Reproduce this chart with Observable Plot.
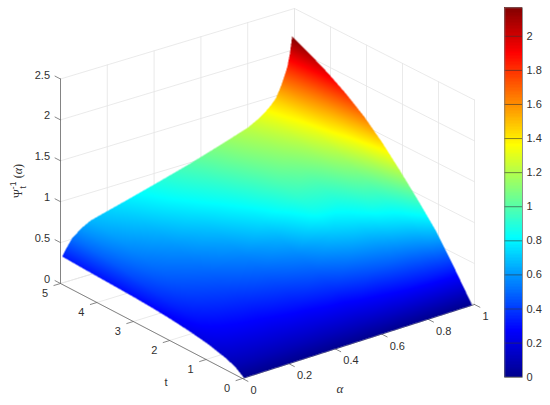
<!DOCTYPE html>
<html>
<head>
<meta charset="utf-8">
<script src="https://cdn.jsdelivr.net/npm/d3@7"></script>
<script src="https://cdn.jsdelivr.net/npm/@observablehq/plot@0.6"></script>
<style>
html,body{margin:0;padding:0;background:#fff;}
#chart{position:relative;width:550px;height:405px;overflow:hidden;}
#chart svg{position:absolute;left:0;top:0;background:transparent;}
</style>
</head>
<body>
<div id="chart"></div>
<script>
// ---------- values ----------
const tValues = [0, 0.25, 0.5, 1, 1.5, 2, 2.5, 3, 3.5, 4, 4.5, 5];
const alphaValues = [0.007, 0.02, 0.035, 0.05, 0.09, 0.13, 0.25, 0.4, 0.55, 0.7, 0.8, 0.84, 0.87, 0.9, 0.92, 0.94, 0.96, 0.97, 0.98, 0.99];
const zAlpha007 = [0, .08, .125, .185, .222, .25, .27, .284, .294, .303, .313, .324];
const zAlpha02  = [0, .085, .135, .205, .25, .283, .31, .33, .345, .36, .373, .385];
const zAlpha035 = [0, .088, .14, .215, .268, .307, .34, .367, .392, .415, .435, .45];
const zAlpha05  = [0, .09, .145, .225, .285, .33, .37, .405, .44, .465, .49, .51];
const zAlpha09  = [0, .095, .15, .24, .305, .36, .41, .455, .495, .53, .567, .60];
const zAlpha13  = [0, .095, .155, .25, .32, .38, .435, .485, .53, .575, .62, .66];
const zAlpha25  = [0, .10, .165, .27, .35, .42, .48, .535, .59, .645, .70, .75];
const zAlpha40  = [0, .105, .185, .31, .40, .48, .55, .62, .69, .76, .82, .865];
const zAlpha55  = [0, .12, .21, .36, .47, .56, .65, .75, .82, .88, .935, .985];
const zAlpha70  = [0, .145, .26, .44, .58, .70, .84, .92, .98, 1.03, 1.08, 1.12];
const zAlpha80  = [0, .16, .30, .49, .63, .77, .87, .96, 1.05, 1.12, 1.17, 1.215];
const zAlpha84  = [0, .165, .31, .505, .665, .815, .915, 1.005, 1.09, 1.16, 1.22, 1.275];
const zAlpha87  = [0, .17, .32, .52, .70, .86, .96, 1.05, 1.13, 1.20, 1.27, 1.33];
const zAlpha90  = [0, .171, .326, .545, .73, .885, 1.0, 1.10, 1.19, 1.27, 1.345, 1.405];
const zAlpha92  = [0, .172, .33, .56, .75, .90, 1.02, 1.13, 1.23, 1.32, 1.40, 1.47];
const zAlpha94  = [0, .173, .335, .585, .78, .94, 1.07, 1.20, 1.32, 1.42, 1.51, 1.585];
const zAlpha96  = [0, .174, .34, .62, .83, 1.00, 1.15, 1.29, 1.42, 1.54, 1.64, 1.735];
const zAlpha97  = [0, .175, .342, .635, .86, 1.05, 1.22, 1.37, 1.50, 1.62, 1.73, 1.82];
const zAlpha98  = [0, .175, .345, .65, .90, 1.11, 1.30, 1.47, 1.62, 1.75, 1.86, 1.96];
const zAlpha99  = [0, .175, .35, .68, .945, 1.195, 1.43, 1.635, 1.80, 1.94, 2.06, 2.167];
const zColumns = [zAlpha007, zAlpha02, zAlpha035, zAlpha05, zAlpha09, zAlpha13, zAlpha25, zAlpha40, zAlpha55, zAlpha70, zAlpha80, zAlpha84, zAlpha87, zAlpha90, zAlpha92, zAlpha94, zAlpha96, zAlpha97, zAlpha98, zAlpha99];

const alphaTicks = [0, 0.2, 0.4, 0.6, 0.8, 1];
const tTicks = [0, 1, 2, 3, 4, 5];
const zTicks = [0, 0.5, 1, 1.5, 2, 2.5];
const colorTicks = [0, 0.2, 0.4, 0.6, 0.8, 1, 1.2, 1.4, 1.6, 1.8, 2];
const colorMax = 2.167;
const jetStops = [0, 0.125, 0.375, 0.625, 0.875, 1];
const jetColors = ["#00008f", "#0000ff", "#00ffff", "#ffff00", "#ff0000", "#800000"];

// ---------- view ----------
const W = 550, H = 405;
const view = {ox: 242, oy: 378, ax: 232, ay: -74, tx: -182, ty: -95, cx: 2, cy: 3.5, zy: -81.8};
function px(a, t) { const u = t / 5; return view.ox + a * view.ax + u * view.tx + a * u * view.cx; }
function py(a, t, z) { const u = t / 5; return view.oy + a * view.ay + u * view.ty + a * u * view.cy + z * view.zy; }

const color = {
  type: "linear",
  domain: jetStops.map(s => s * colorMax),
  range: jetColors,
  interpolate: "rgb",
  clamp: true
};

// ---------- surface ----------
const surface = [];
alphaValues.forEach((a, i) => tValues.forEach((t, j) => surface.push({a, t, z: zColumns[i][j]})));
const nA = alphaValues.length, nT = tValues.length;

// fills only the triangles of the surface mesh (its outline is not convex)
function meshInterpolate(index, width, height, X, Y, V) {
  const out = new Float64Array(width * height).fill(NaN);
  const tri = (p, q, r) => {
    const x0 = X[p], y0 = Y[p], x1 = X[q], y1 = Y[q], x2 = X[r], y2 = Y[r];
    const d = (y1 - y2) * (x0 - x2) + (x2 - x1) * (y0 - y2);
    if (!d) return;
    const xa = Math.max(0, Math.floor(Math.min(x0, x1, x2))), xb = Math.min(width - 1, Math.ceil(Math.max(x0, x1, x2)));
    const ya = Math.max(0, Math.floor(Math.min(y0, y1, y2))), yb = Math.min(height - 1, Math.ceil(Math.max(y0, y1, y2)));
    for (let y = ya; y <= yb; ++y) for (let x = xa; x <= xb; ++x) {
      const sx = x + 0.5, sy = y + 0.5;
      const l0 = ((y1 - y2) * (sx - x2) + (x2 - x1) * (sy - y2)) / d;
      const l1 = ((y2 - y0) * (sx - x2) + (x0 - x2) * (sy - y2)) / d;
      const l2 = 1 - l0 - l1;
      if (l0 >= -1e-6 && l1 >= -1e-6 && l2 >= -1e-6) out[y * width + x] = l0 * V[p] + l1 * V[q] + l2 * V[r];
    }
  };
  for (let i = 0; i < nA - 1; ++i) for (let j = 0; j < nT - 1; ++j) {
    const p = i * nT + j, q = p + 1, r = (i + 1) * nT + j, s = r + 1;
    tri(p, q, s); tri(p, s, r);
  }
  return out;
}

// ---------- box, grid and ticks ----------
const gridLines = [];
const seg = (k, p, q) => { gridLines.push({k, ...p}, {k, ...q}); };
const tipAt = (a, t, z) => ({X: px(a, t), Y: py(a, t, z)});
alphaTicks.forEach(a => {
  seg("fa" + a, tipAt(a, 0, 0), tipAt(a, 5, 0));
  seg("wa" + a, tipAt(a, 5, 0), tipAt(a, 5, 2.5));
});
tTicks.forEach(t => {
  seg("ft" + t, tipAt(0, t, 0), tipAt(1, t, 0));
  seg("wt" + t, tipAt(1, t, 0), tipAt(1, t, 2.5));
});
zTicks.forEach(z => {
  seg("za" + z, tipAt(0, 5, z), tipAt(1, 5, z));
  seg("zt" + z, tipAt(1, 5, z), tipAt(1, 0, z));
});
const axisLines = [];
const axSeg = (k, p, q) => { axisLines.push({k, ...p}, {k, ...q}); };
axSeg("z", tipAt(0, 5, 0), tipAt(0, 5, 2.5));
axSeg("t", tipAt(0, 0, 0), tipAt(0, 5, 0));
axSeg("a", tipAt(0, 0, 0), tipAt(1, 0, 0));
zTicks.forEach(z => axSeg("tz" + z, tipAt(0, 5, z), tipAt(0, 5.15, z)));
tTicks.forEach(t => axSeg("tt" + t, tipAt(0, t, 0), tipAt(-0.028, t, 0)));
alphaTicks.forEach(a => axSeg("ta" + a, tipAt(a, 0, 0), tipAt(a, -0.15, 0)));

const font = "Liberation Sans, Arial, Helvetica, sans-serif";
const ink = "#303030";

const main = Plot.plot({
  width: W, height: H,
  margin: 0,
  x: {domain: [0, W], range: [0, W], axis: null},
  y: {domain: [0, H], range: [0, H], axis: null},
  color,
  style: {fontFamily: font, background: "transparent"},
  marks: [
    Plot.line(gridLines, {x: "X", y: "Y", z: "k", stroke: "#e4e4e4", strokeWidth: 0.8}),
    Plot.line(axisLines, {x: "X", y: "Y", z: "k", stroke: "#6a6a6a", strokeWidth: 0.8}),
    Plot.raster(surface, {
      x: d => px(d.a, d.t), y: d => py(d.a, d.t, d.z), fill: "z",
      x1: 0, x2: W, y1: 0, y2: H, pixelSize: 0.5, interpolate: meshInterpolate
    }),
    Plot.text(zTicks, {x: () => px(0, 5), y: z => py(0, 5, z), text: z => String(z), textAnchor: "end", dx: -10.5, dy: -4, fontSize: 11, fill: ink}),
    Plot.text(tTicks, {x: t => px(0, t), y: t => py(0, t, 0), text: t => String(t), dx: -15.5, dy: 9.5, fontSize: 11, fill: ink}),
    Plot.text(alphaTicks, {x: a => px(a, 0), y: a => py(a, 0, 0), text: a => String(a), textAnchor: "start", dx: 8, dy: 12, fontSize: 11, fill: ink}),
    Plot.text(["t"], {x: () => px(0, 2.1), y: () => py(0, 2.1, 0), dy: 44, fontSize: 11, fill: ink}),
    Plot.text(["α"], {x: () => px(0.42, 0), y: () => py(0.42, 0, 0), dy: 41, fontSize: 13, fontStyle: "italic", fontFamily: "Liberation Serif, serif", fill: ink})
  ]
});

// ---------- colour bar ----------
const barLevels = d3.range(0, 256).map(i => i / 256 * colorMax);
const barStep = colorMax / 256;
const bar = Plot.plot({
  width: W, height: H,
  marginTop: 7.3, marginBottom: H - 376.7, marginLeft: 504.3, marginRight: W - 522,
  x: {domain: [0, 1], axis: null},
  y: {domain: [0, colorMax], axis: null},
  color,
  style: {fontFamily: font, background: "transparent"},
  marks: [
    Plot.rect(barLevels, {x1: 0, x2: 1, y1: d => d, y2: d => d + barStep, fill: d => d, inset: 0, shapeRendering: "crispEdges"}),
    Plot.tickY(colorTicks, {y: d => d, x1: 0.82, x2: 1, stroke: "#333", strokeWidth: 0.6}),
    Plot.text(colorTicks, {x: 1, y: d => d, text: d => String(d), textAnchor: "start", dx: 4, fontSize: 11, fill: ink}),
    Plot.frame({stroke: "#777", strokeWidth: 0.8})
  ]
});

// ---------- z label ----------
const zLabel = document.createElementNS("http://www.w3.org/2000/svg", "text");
zLabel.setAttribute("transform", "translate(22,198) rotate(-90)");
zLabel.setAttribute("font-family", "Liberation Serif, serif");
zLabel.setAttribute("font-size", "12");
zLabel.setAttribute("text-anchor", "start");
zLabel.setAttribute("fill", ink);
zLabel.innerHTML = '<tspan>Ψ</tspan><tspan dy="-6.5" font-size="8.5" font-family="Liberation Sans, sans-serif">-1</tspan><tspan dx="-7" dy="10" font-size="8.5" font-family="Liberation Sans, sans-serif">t</tspan><tspan dx="8" dy="-3.5">(</tspan><tspan font-style="italic">α</tspan><tspan>)</tspan>';
main.appendChild(zLabel);

const root = document.getElementById("chart");
root.appendChild(bar);
root.appendChild(main);
</script>
</body>
</html>
